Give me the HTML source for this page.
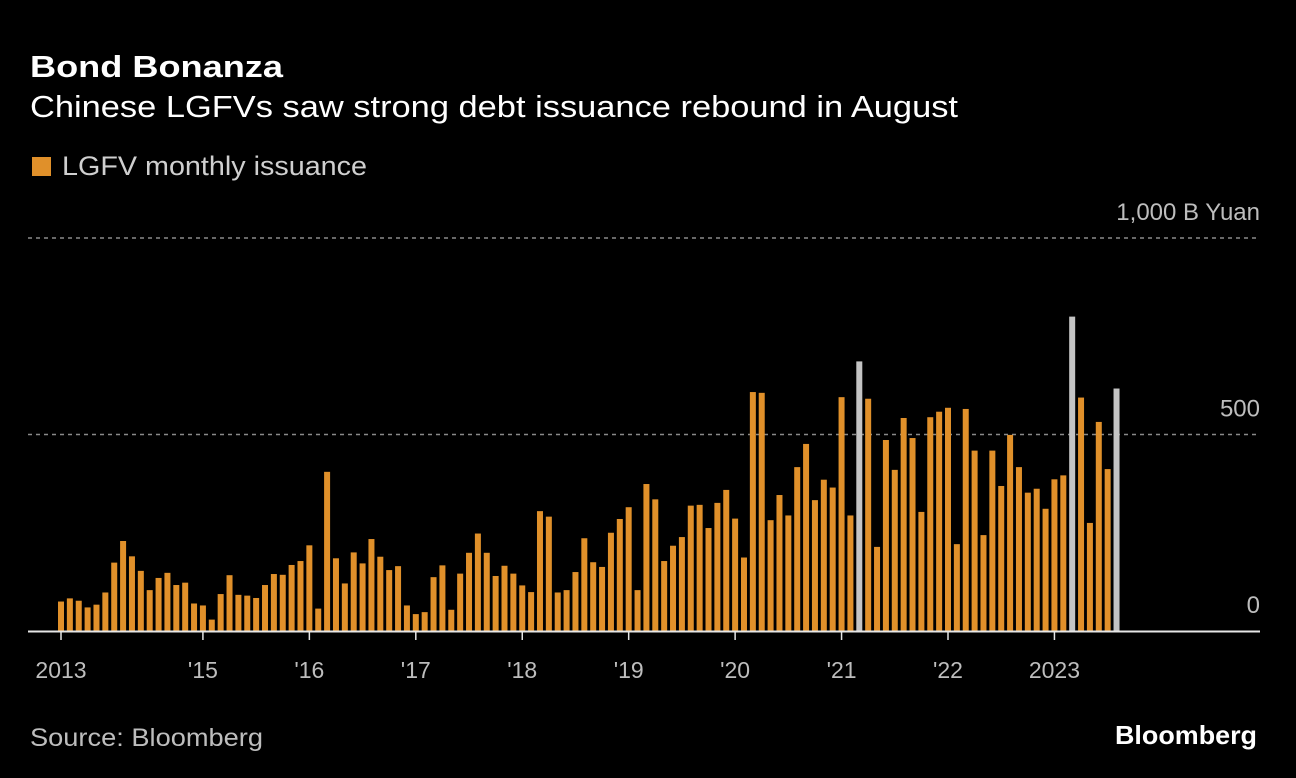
<!DOCTYPE html>
<html><head><meta charset="utf-8"><style>
html,body{margin:0;padding:0;background:#000;width:1296px;height:778px;overflow:hidden}
svg text{font-family:"Liberation Sans",sans-serif}
</style></head><body>
<svg id="chart" width="1296" height="778" xmlns="http://www.w3.org/2000/svg">
<rect width="1296" height="778" fill="#000"/>
<text x="30" y="77" font-size="31" font-weight="bold" fill="#fff" textLength="253" lengthAdjust="spacingAndGlyphs">Bond Bonanza</text>
<text x="30" y="117" font-size="31" fill="#fff" textLength="928" lengthAdjust="spacingAndGlyphs">Chinese LGFVs saw strong debt issuance rebound in August</text>
<rect x="32" y="157" width="19" height="19" fill="#e0902a"/>
<text x="62" y="175" font-size="27" fill="#cfcfcf" textLength="305" lengthAdjust="spacingAndGlyphs">LGFV monthly issuance</text>
<g id="grid"></g>
<g id="bars"></g>
<g id="xaxis"></g>
<text x="30" y="746" font-size="25" fill="#bdbdbd" textLength="233" lengthAdjust="spacingAndGlyphs">Source: Bloomberg</text>
<text x="1115" y="744" font-size="26" font-weight="bold" fill="#fff" textLength="142" lengthAdjust="spacingAndGlyphs">Bloomberg</text>
</svg>
<script>
const values = [75,83,77,60,67,98,174,229,190,153,104,135,148,117,123,70,65,29,94,142,92,90,84,117,145,143,168,178,218,57,405,185,121,200,172,234,189,155,165,65,43,48,137,167,54,146,199,248,199,140,166,146,116,99,305,291,98,104,150,236,175,163,250,285,315,104,374,335,178,217,239,319,321,262,326,359,286,187,608,606,282,346,294,417,476,333,385,365,595,294,686,591,214,486,410,542,491,303,544,558,568,221,565,459,244,459,369,499,417,352,362,311,386,396,800,594,275,532,412,617];
const highlighted = [90,114,119];
const yTicks = [0,500,1000];
const yTickLabels = ["0","500","1,000 B Yuan"];
const xTickMonths = [0,16,28,40,52,64,76,88,100,112];
const xTickLabels = ["2013","'15","'16","'17","'18","'19","'20","'21","'22","2023"];
const NS="http://www.w3.org/2000/svg";
const y0=631, pxPerUnit=196.5/500;
const yScale=v=>y0-v*pxPerUnit;
const x0=61, step=8.87;
const xScale=i=>x0+i*step;
function mk(tag,attrs,parent){const e=document.createElementNS(NS,tag);for(const k in attrs)e.setAttribute(k,attrs[k]);parent.appendChild(e);return e;}
const grid=document.getElementById('grid');
yTicks.forEach((t,i)=>{
  const y=yScale(t);
  if(t>0){const l=mk('line',{x1:28,x2:1258,y1:y,y2:y,stroke:'#8a8a8a','stroke-width':1.5,'stroke-dasharray':'4 4'},grid);
  
  }
  const tx=mk('text',{x:1260,y:y-18,'font-size':24,fill:'#bdbdbd','text-anchor':'end'},grid);
  tx.textContent=yTickLabels[i];
  
  
});
const bars=document.getElementById('bars');
values.forEach((v,i)=>{
  const x=xScale(i), y=yScale(v);
  const r=mk('rect',{x:x-3,y:y,width:6,height:y0-y,fill:highlighted.includes(i)?'#c4c4c4':'#e0902a'},bars);
  
  
});
const xa=document.getElementById('xaxis');
const ax=mk('line',{x1:28,x2:1260,y1:y0+0.5,y2:y0+0.5,stroke:'#e6e6e6','stroke-width':2},xa);


xTickMonths.forEach((m,i)=>{
  const x=xScale(m);
  const t=mk('line',{x1:x,x2:x,y1:y0,y2:y0+9,stroke:'#e6e6e6','stroke-width':1.5},xa);
  
  
  const tx=mk('text',{x:x,y:678,'font-size':23,fill:'#bdbdbd','text-anchor':'middle'},xa);
  tx.textContent=xTickLabels[i];
  
  
});
</script>
</body></html>
